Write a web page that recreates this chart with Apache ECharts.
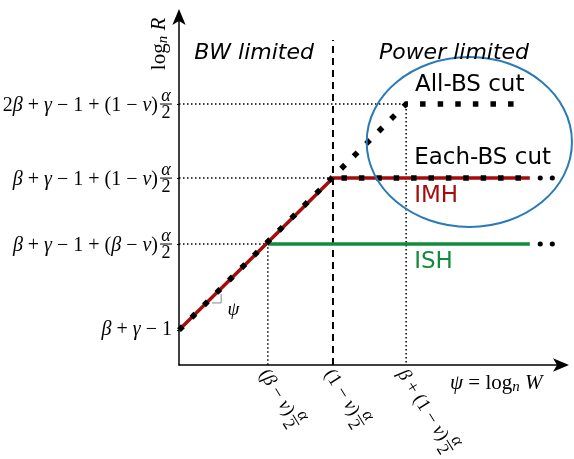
<!DOCTYPE html>
<html><head><meta charset="utf-8">
<script src="https://cdn.jsdelivr.net/npm/echarts@6/dist/echarts.min.js"></script>
<style>html,body{margin:0;padding:0;background:#fff}#c{width:574px;height:459px}</style>
</head><body><div id="c"></div>
<script>
// ---------------- data (schematic units) ----------------
const psiTicks = [2.32, 4.02, 5.93];            // (β−ν)α/2, (1−ν)α/2, β+(1−ν)α/2
const psiTickLabels = ['(β − ν)|α|2', '(1 − ν)|α|2', 'β + (1 − ν)|α|2'];
const rateTicks = [0.90, 3.12, 4.82, 6.73];
const rateTickLabels = ['β + γ − 1', 'β + γ − 1 + (β − ν)|α|2', 'β + γ − 1 + (1 − ν)|α|2', '2β + γ − 1 + (1 − ν)|α|2'];
const imhLine   = [[0, 0.90], [4.02, 4.82], [9.16, 4.82]];
const ishLine   = [[2.32, 3.12], [9.16, 3.12]];
const allBsCut  = [[0, 0.90], [5.93, 6.73], [9.03, 6.73]];
const eachBsCut = [[4.02, 4.82], [9.03, 4.82]];
const imhTail   = [[9.43, 4.82], [10.06, 4.82]];
const ishTail   = [[9.43, 3.12], [10.06, 3.12]];
const boundary  = [[4.02, 0], [4.02, 8.38]];
const regionNames = ['BW limited', 'Power limited'];
const cutNames = ['All-BS cut', 'Each-BS cut'];
const schemeNames = ['IMH', 'ISH'];

// ---------------- layout / style ----------------
const RED = '#a50d0d', GREEN = '#138a3c', BLUE = '#2a7ab8';
const SERIF = '"Liberation Serif", "DejaVu Serif", serif';
const SANS = '"DejaVu Sans", sans-serif';
const MS = 20;
const notes = {
  bw: [1.96, 8.03], power: [7.18, 8.03], all: [6.16, 7.22], each: [6.14, 5.34],
  imh: [6.14, 4.36], ish: [6.14, 2.65], psi: [1.42, 1.42],
  tri: [[0.86, 1.60], [1.10, 1.60], [1.10, 1.83]],
  ellipse: { c: [7.58, 5.75], rx: 2.68, ry: 2.19 }
};

const chart = echarts.init(document.getElementById('c'), null, { renderer: 'canvas' });

function ln(data, color, width, type, z, extra) {
  return {
    type: 'line', data, symbol: 'none', showSymbol: false, silent: true, clip: false,
    animation: false, z,
    lineStyle: Object.assign({ color, width, type, cap: 'butt', join: 'miter' }, (extra || {}))
  };
}
const guideType = [1.5, 2.5];
const series = [
  ln([[0, rateTicks[3]], [psiTicks[2], rateTicks[3]], [psiTicks[2], 0]], '#000', 1.5, guideType, 1),
  ln([[0, rateTicks[2]], [psiTicks[1], rateTicks[2]]], '#000', 1.5, guideType, 1),
  ln([[0, rateTicks[1]], [psiTicks[0], rateTicks[1]], [psiTicks[0], 0]], '#000', 1.5, guideType, 1),
  ln(boundary, '#000', 2, [7, 5], 2),
  ln(imhLine, RED, 3.5, 'solid', 3),
  ln(ishLine, GREEN, 3.5, 'solid', 3),
  ln(allBsCut, '#000', 5.5, [5.5, 12.1], 4),
  ln(eachBsCut, '#000', 5.5, [5.5, 11.9], 4, { dashOffset: 8.9 }),
  ln(imhTail, '#000', 5, [0.1, 12], 4, { cap: 'round' }),
  ln(ishTail, '#000', 5, [0.1, 12], 4, { cap: 'round' }),
  ln(notes.tri, '#888', 1, 'solid', 2)
];

chart.setOption({
  animation: false,
  grid: { left: 179, top: 16, width: 383, height: 349, containLabel: false },
  xAxis: {
    type: 'value', min: 0, max: 10, splitLine: { show: false },
    axisLine: { show: true, onZero: false, symbol: ['none', 'arrow'], symbolSize: [10, 16], symbolOffset: [0, 7], lineStyle: { color: '#000', width: 1.5 } },
    axisTick: { show: false }, axisLabel: { show: false }
  },
  yAxis: {
    type: 'value', min: 0, max: 9, splitLine: { show: false },
    axisLine: { show: true, onZero: false, symbol: ['none', 'arrow'], symbolSize: [10, 16], symbolOffset: [0, 7], lineStyle: { color: '#000', width: 1.5 } },
    axisTick: { show: true, customValues: rateTicks, length: 2, lineStyle: { color: '#000', width: 1 } },
    axisLabel: { show: false }
  },
  series
});

// ---------------- math text helpers ----------------
const mctx = document.createElement('canvas').getContext('2d');
const GREEK = /[αβγνψ]/;
function tokens(s) {
  const out = []; let cur = '', it = null;
  for (const ch of s) {
    const g = GREEK.test(ch);
    if (it === null) it = g;
    if (g !== it) { out.push([cur, it]); cur = ''; it = g; }
    cur += ch;
  }
  if (cur) out.push([cur, it]);
  return out;
}
function fontOf(it, size) { return (it ? 'italic ' : 'normal ') + size + 'px ' + SERIF; }
function width(s, size) {
  let w = 0;
  for (const [t, it] of tokens(s)) { mctx.font = fontOf(it, size); w += mctx.measureText(t).width; }
  return w;
}
function rich(size, color) {
  const c = color || '#000';
  const ss = Math.round(size * 0.7);
  return {
    g: { font: fontOf(true, size), fontFamily: SERIF, fontStyle: 'italic', fontSize: size, fill: c },
    n: { font: fontOf(false, size), fontFamily: SERIF, fontStyle: 'normal', fontSize: size, fill: c },
    s: { font: fontOf(true, ss), fontFamily: SERIF, fontStyle: 'italic', fontSize: ss, fill: c, padding: [Math.round(size * 0.45), 0, 0, 0] }
  };
}
function markup(s) { return tokens(s).map(([t, it]) => '{' + (it ? 'g' : 'n') + '|' + t + '}').join(''); }
function txt(x, y, text, size, align, valign, extra) {
  return Object.assign({
    type: 'text', x, y, silent: true, z: 10,
    style: { text, rich: rich(size), font: fontOf(false, size), fontSize: size, fontFamily: SERIF, fill: '#000',
      align, verticalAlign: valign, textAlign: align, textVerticalAlign: valign }
  }, extra || {});
}
// builds main + stacked fraction; returns children in local coords
function mathLabel(label, size, anchorAlign) {
  const [main, num, den] = label.split('|');
  const w = width(main, size);
  const kids = [];
  if (!num) {
    kids.push(txt(0, 0, markup(main), size, anchorAlign === 'right' ? 'right' : 'left', 'middle'));
    return kids;
  }
  const fw = 12;
  const x0 = anchorAlign === 'right' ? -(w + 2 + fw) : 0;
  kids.push(txt(x0, 2, markup(main), size, 'left', 'middle'));
  const fc = x0 + w + 2 + fw / 2;
  const fs = Math.round(size * 0.9);
  kids.push(txt(fc, -8, markup(num), fs, 'center', 'middle'));
  kids.push(txt(fc, 9, markup(den), fs, 'center', 'middle'));
  kids.push({ type: 'line', silent: true, z: 10, shape: { x1: fc - fw / 2, y1: 0, x2: fc + fw / 2, y2: 0 }, style: { stroke: '#000', lineWidth: 1 } });
  return kids;
}

const P = (p) => chart.convertToPixel({ gridIndex: 0 }, p);
const graphic = [];

// y tick labels
rateTicks.forEach((v, i) => {
  const [, py] = P([0, v]);
  graphic.push({ type: 'group', x: 172, y: py, children: mathLabel(rateTickLabels[i], MS, 'right') });
});
// x tick labels (rotated)
const rot = -58 * Math.PI / 180;
psiTicks.forEach((v, i) => {
  const [px, py] = P([v, 0]);
  graphic.push({ type: 'group', x: px - 3, y: py + 5, rotation: rot, children: mathLabel(psiTickLabels[i], 19, 'left') });
});
// axis names
{
  const [ox, oy] = P([0, 0]);
  graphic.push(txt(ox - 20, 44, '{n|log}{s|n}{g| R}', 21, 'center', 'middle', { rotation: Math.PI / 2 }));
  graphic.push(txt(450, oy + 18, '{g|ψ}{n| = log}{s|n}{g| W}', 21, 'left', 'middle'));
}
// ellipse
{
  const [cx, cy] = P(notes.ellipse.c);
  const [ex] = P([notes.ellipse.c[0] + notes.ellipse.rx, 0]);
  const [, ey] = P([0, notes.ellipse.c[1] + notes.ellipse.ry]);
  graphic.push({ type: 'ellipse', silent: true, z: 5, shape: { cx, cy, rx: ex - cx, ry: cy - ey }, style: { fill: 'none', stroke: BLUE, lineWidth: 2 } });
}
function sansText(p, text, color, size, align, italic) {
  const [x, y] = P(p);
  return { type: 'text', x, y, silent: true, z: 10,
    style: { text, fill: color, font: (italic ? 'italic ' : '') + size + 'px ' + SANS,
      align, verticalAlign: 'middle', textAlign: align, textVerticalAlign: 'middle' } };
}
graphic.push(sansText(notes.bw, regionNames[0], '#000', 22, 'center', true));
graphic.push(sansText(notes.power, regionNames[1], '#000', 22, 'center', true));
graphic.push(sansText(notes.all, cutNames[0], '#000', 23, 'left', false));
graphic.push(sansText(notes.each, cutNames[1], '#000', 23, 'left', false));
graphic.push(sansText(notes.imh, schemeNames[0], RED, 23, 'left', false));
graphic.push(sansText(notes.ish, schemeNames[1], GREEN, 23, 'left', false));
{
  const [x, y] = P(notes.psi);
  graphic.push(txt(x, y, '{g|ψ}', 19, 'center', 'middle'));
}
chart.setOption({ graphic });
</script></body></html>
